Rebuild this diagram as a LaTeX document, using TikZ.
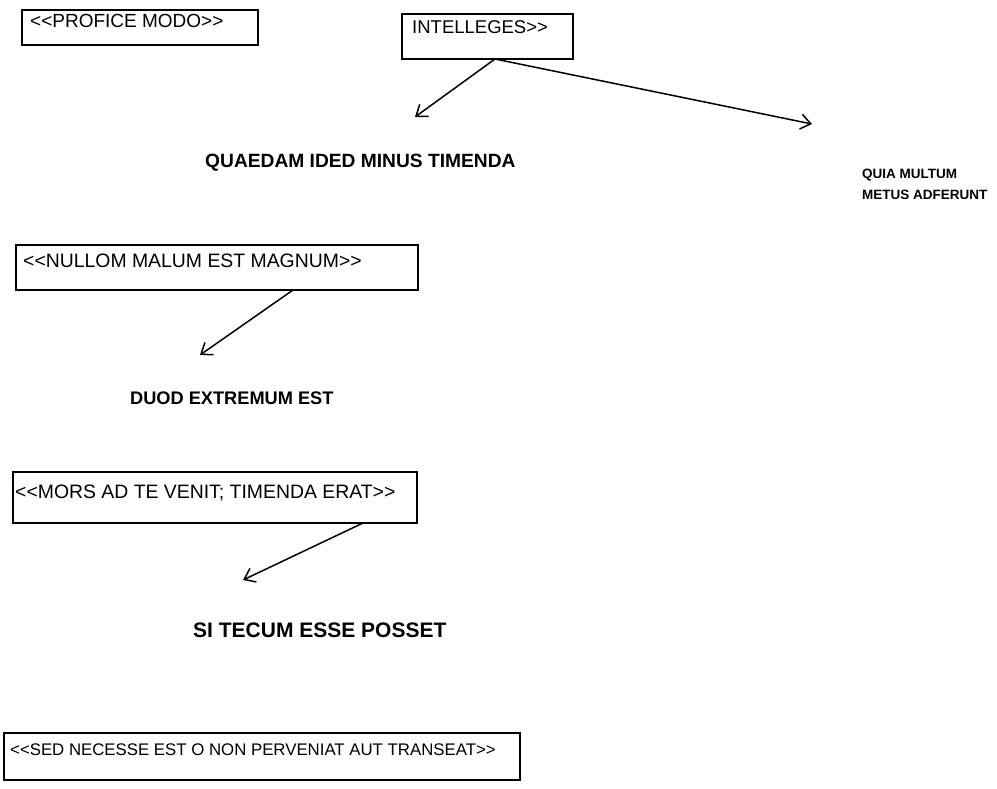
\documentclass[tikz,border=0pt]{standalone}
\usepackage{fontspec}
\setmainfont{Liberation Sans}
\usetikzlibrary{arrows.meta}
\begin{document}
\begin{tikzpicture}[x=1pt,y=-1pt,
  box/.style={draw, line width=1.5pt, inner sep=0pt, outer sep=0pt, anchor=north west},
  boxtext/.style={anchor=base west, inner sep=0pt},
  label/.style={anchor=base west, inner sep=0pt, font=\bfseries},
  arr/.style={line width=1.5pt, -{Straight Barb[length=10pt,width=15pt,line width=1.5pt]}}]
  \useasboundingbox[fill=white] (0,0) rectangle (997,788);

  % framed statements
  \node[box, minimum width=236pt, minimum height=35pt] (b1) at (22,10) {};
  \node[boxtext, font=\fontsize{19}{22}\selectfont] (t1) at (30,27) {<{}<PROFICE MODO>{}>};

  \node[box, minimum width=171pt, minimum height=45pt] (b2) at (402,14) {};
  \node[boxtext, font=\fontsize{18.5}{22}\selectfont] (t2) at (412,33) {INTELLEGES>{}>};

  \node[box, minimum width=402pt, minimum height=45pt] (b3) at (16,245) {};
  \node[boxtext, font=\fontsize{19.4}{22}\selectfont] (t3) at (23,267) {<{}<NULLOM MALUM EST MAGNUM>{}>};

  \node[box, minimum width=404pt, minimum height=51pt] (b4) at (13,472) {};
  \node[boxtext, font=\fontsize{19.4}{22}\selectfont] (t4) at (15,498) {<{}<MORS AD TE VENIT; TIMENDA ERAT>{}>};

  \node[box, minimum width=516pt, minimum height=47pt] (b5) at (4,733) {};
  \node[boxtext, font=\fontsize{16.8}{20}\selectfont] (t5) at (10,755) {<{}<SED NECESSE EST O NON PERVENIAT AUT TRANSEAT>{}>};

  % bold answers
  \node[label, font=\bfseries\fontsize{19.2}{22}\selectfont] (l1) at (205,167) {QUAEDAM IDED MINUS TIMENDA};
  \node[label, font=\bfseries\fontsize{13.5}{16}\selectfont] (l2a) at (862,178) {QUIA MULTUM};
  \node[label, font=\bfseries\fontsize{13.5}{16}\selectfont] (l2b) at (862,199) {METUS ADFERUNT};
  \node[label, font=\bfseries\fontsize{18.2}{22}\selectfont] (l3) at (130,404) {DUOD EXTREMUM EST};
  \node[label, font=\bfseries\fontsize{21}{24}\selectfont] (l4) at (193,637) {SI TECUM ESSE POSSET};

  % arrow ends
  \coordinate (e1) at (415,117);
  \coordinate (e2) at (812,124);
  \coordinate (e3) at (200,355);
  \coordinate (e4) at (243,580);

  \draw[arr] ([xshift=7.5pt]b2.south) -- (e1);
  \draw[arr] ([xshift=7.5pt]b2.south) -- (e2);
  \draw[arr] ([xshift=76pt]b3.south) -- (e3);
  \draw[arr] ([xshift=148pt]b4.south) -- (e4);
\end{tikzpicture}
\end{document}
